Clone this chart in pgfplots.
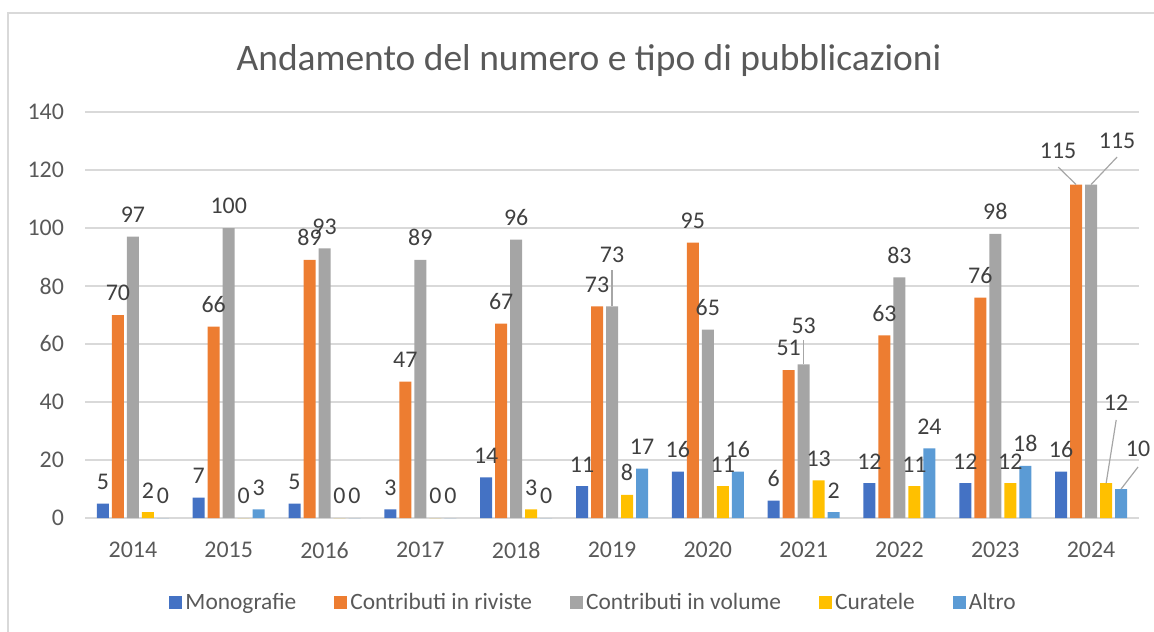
\documentclass[border=0pt]{standalone}
\usepackage{fontspec}
\setmainfont{Carlito}
\usepackage{pgfplots}
\pgfplotsset{compat=1.18}
\usepackage{pgfplotstable}
\definecolor{cMono}{HTML}{4472C4}
\definecolor{cRiv}{HTML}{ED7D31}
\definecolor{cVol}{HTML}{A5A5A5}
\definecolor{cCur}{HTML}{FFC000}
\definecolor{cAlt}{HTML}{5B9BD5}
\definecolor{gridc}{HTML}{D9D9D9}
\definecolor{txt}{HTML}{595959}
\definecolor{lbl}{HTML}{404040}
\definecolor{lead}{HTML}{A6A6A6}

\pgfplotstableread{
x y dx dy
0 5 0 0
1 7 0 0
2 5 0 0
3 3 0 0
4 14 0 0
5 11 0 0
6 16 0 0
7 6 0 0
8 12 0 0
9 12 0 0
10 16 0 0
}\mono
\pgfplotstableread{
x y dx dy
0 70 0 0
1 66 0 0
2 89 0 0
3 47 0 0
4 67 0 0
5 73 0 0
6 95 0 0
7 51 0 0
8 63 0 0
9 76 0 0
10 115 -9 6
}\riv
\pgfplotstableread{
x y dx dy
0 97 0 0
1 100 0 0
2 93 0 0
3 89 0 0
4 96 0 0
5 73 0 15
6 65 0 0
7 53 0 8.5
8 83 0 0
9 98 0 0
10 115 13 11
}\vol
\pgfplotstableread{
x y dx dy
0 2 0 0
1 0 0 0
2 0 0 0
3 0 0 0
4 3 0 0
5 8 0 0
6 11 0 0
7 13 0 0
8 11 0 0
9 12 0 0
10 12 5 29.5
}\cur
\pgfplotstableread{
x y dx dy
0 0 0 0
1 3 0 0
2 0 0 0
3 0 0 0
4 0 0 0
5 17 0 0
6 16 0 0
7 2 0 0
8 24 0 0
9 18 0 0
10 10 8.5 9
}\alt

\pgfplotsset{
  barlbl/.style={
    visualization depends on={\thisrow{dx} \as \dx},
    visualization depends on={\thisrow{dy} \as \dy},
    nodes near coords,
    every node near coord/.append style={font=\fontsize{12}{14}\selectfont, text=lbl, xshift={\dx*1bp}, yshift={(\dy+3.5)*1bp}},
  }
}

\begin{document}
\begin{tikzpicture}
\useasboundingbox (0,0) rectangle (577bp,-316bp);
\draw[gridc, line width=1bp] (4bp,-400bp) -- (4bp,-6.5bp) -- (700bp,-6.5bp);
\node[anchor=base, text=txt, font=\fontsize{18.8}{22}\selectfont] at (294.5bp,-35bp) {Andamento del numero e tipo di pubblicazioni};
\begin{axis}[
  at={(42.5bp,-259bp)}, anchor=south west,
  scale only axis, width=527bp, height=203bp,
  xmin=-0.5, xmax=10.5, ymin=0, ymax=140,
  enlargelimits=false, clip=false,
  ybar=1.5bp, bar width=6bp,
  axis line style={draw=none},
  major tick length=0pt,
  ytick={0,20,...,140},
  xtick={0,...,10},
  xticklabels={2014,2015,2016,2017,2018,2019,2020,2021,2022,2023,2024},
  ymajorgrids, grid style={gridc, line width=0.75bp},
  /pgf/number format/assume math mode=true,
  ticklabel style={text=txt, font=\fontsize{12}{14}\selectfont},
  yticklabel style={xshift=-7bp},
  xticklabel style={yshift=-8.5bp},
  legend columns=5,
  legend style={at={(0.483,-0.209)}, anchor=center, draw=none, fill=none,
    font=\fontsize{11.75}{13}\selectfont, text=txt,
    /tikz/every even column/.append style={column sep=17.5bp},
    nodes={inner sep=1.5bp}},
  legend image code/.code={\fill[#1] (0bp,-3.25bp) rectangle (6.5bp,3.25bp);},
]
\addplot[fill=cMono, draw=none, barlbl] table[x=x,y=y] {\mono};
\addplot[fill=cRiv, draw=none, barlbl] table[x=x,y=y] {\riv};
\addplot[fill=cVol, draw=none, barlbl] table[x=x,y=y] {\vol};
\addplot[fill=cCur, draw=none, barlbl] table[x=x,y=y] {\cur};
\addplot[fill=cAlt, draw=none, barlbl] table[x=x,y=y] {\alt};
\legend{Monografie, Contributi in riviste, Contributi in volume, Curatele, Altro}
\draw[lead, line width=0.6bp] (axis cs:5,85.5) -- (axis cs:5,73);
\draw[lead, line width=0.6bp] (axis cs:7,61.4) -- (axis cs:7,53);
\draw[lead, line width=0.6bp] (axis cs:9.657,121) -- (axis cs:9.843,115);
\draw[lead, line width=0.6bp] (axis cs:10.272,124.5) -- (axis cs:10,115);
\draw[lead, line width=0.6bp] (axis cs:10.262,33.8) -- (axis cs:10.157,12);
\draw[lead, line width=0.6bp] (axis cs:10.49,17.6) -- (axis cs:10.313,10);
\end{axis}
\end{tikzpicture}
\end{document}
